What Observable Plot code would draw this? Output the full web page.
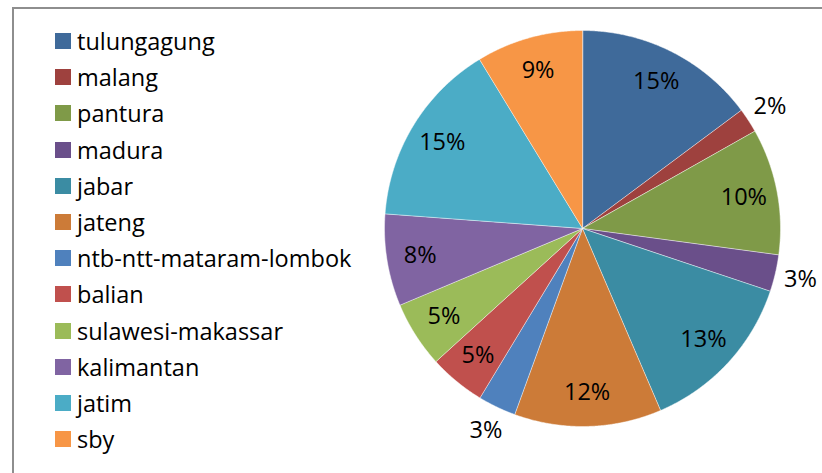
<!DOCTYPE html>
<html>
<head>
<meta charset="utf-8">
<script src="https://cdn.jsdelivr.net/npm/d3@7"></script>
<script src="https://cdn.jsdelivr.net/npm/@observablehq/plot@0.6"></script>
<style>
  body { margin: 0; background: #fff; font-family: "Open Sans", sans-serif; }
  #wrap { position: relative; width: 822px; height: 473px; overflow: hidden; background: #fff; }
  #frame { position: absolute; left: 12px; top: 7px; width: 900px; height: 600px;
           border-top: 2px solid #8e8e8e; border-left: 2px solid #8e8e8e; box-sizing: border-box; }
  #chart { position: absolute; left: 0; top: 0; }
  #legend { position: absolute; left: 55px; top: 0; }
  .item { position: absolute; left: 0; display: flex; align-items: center; white-space: nowrap;
          font-size: 23.5px; color: #000; height: 20px; }
  .sw { width: 16px; height: 16px; margin-right: 6px; flex: none; }
</style>
</head>
<body>
<div id="wrap">
  <div id="frame"></div>
  <div id="chart"></div>
  <div id="legend"></div>
</div>
<script>
const regions = ["tulungagung", "malang", "pantura", "madura", "jabar", "jateng",
  "ntb-ntt-mataram-lombok", "balian", "sulawesi-makassar", "kalimantan", "jatim", "sby"];
const values = [14.8, 2.0, 10.3, 3.0, 13.4, 12.0, 3.1, 4.6, 5.4, 7.5, 15.1, 8.7];
const colors = ["#3F6A9A", "#9E413E", "#7F9A48", "#6A4F8A", "#3B8CA3", "#CC7B38",
  "#4F81BD", "#C0504D", "#9BBB59", "#8064A2", "#4BACC6", "#F79646"];

const total = d3.sum(values);
const arcs = d3.pie().sort(null).startAngle(0).endAngle(2 * Math.PI)(values);

// polar -> unit plane (y down, angle clockwise from 12 o'clock)
const pt = (a, r) => [r * Math.sin(a), -r * Math.cos(a)];

const features = arcs.map((a, i) => {
  const n = Math.max(2, Math.ceil((a.endAngle - a.startAngle) / 0.005));
  const ring = [[0, 0]];
  for (let k = 0; k <= n; k++) ring.push(pt(a.startAngle + (a.endAngle - a.startAngle) * k / n, 1));
  ring.push([0, 0]);
  return {type: "Feature", properties: {region: regions[i]}, geometry: {type: "Polygon", coordinates: [ring]}};
});

const labels = arcs.map((a, i) => {
  const mid = (a.startAngle + a.endAngle) / 2;
  const share = values[i] / total * 100;
  const outside = share < 4;
  const [x, y] = pt(mid, outside ? 1.13 : 0.83);
  return {x, y, text: Math.round(share) + "%"};
});

const chart = Plot.plot({
  width: 822,
  height: 473,
  margin: 0,
  style: {fontFamily: "Open Sans, sans-serif", background: "transparent"},
  projection: () => d3.geoIdentity().scale(198).translate([582, 228]),
  color: {domain: regions, range: colors},
  marks: [
    Plot.geo(features, {fill: d => d.properties.region, stroke: "#ffffff", strokeWidth: 0.6, strokeOpacity: 0.8}),
    Plot.text(labels, {x: "x", y: "y", text: "text", fontSize: 23.5, fill: "#000"})
  ]
});
document.getElementById("chart").appendChild(chart);

const legend = d3.select("#legend");
regions.forEach((r, i) => {
  const it = legend.append("div").attr("class", "item").style("top", (31 + i * 36.2) + "px");
  it.append("div").attr("class", "sw").style("background", colors[i]);
  it.append("span").text(r);
});
</script>
</body>
</html>
